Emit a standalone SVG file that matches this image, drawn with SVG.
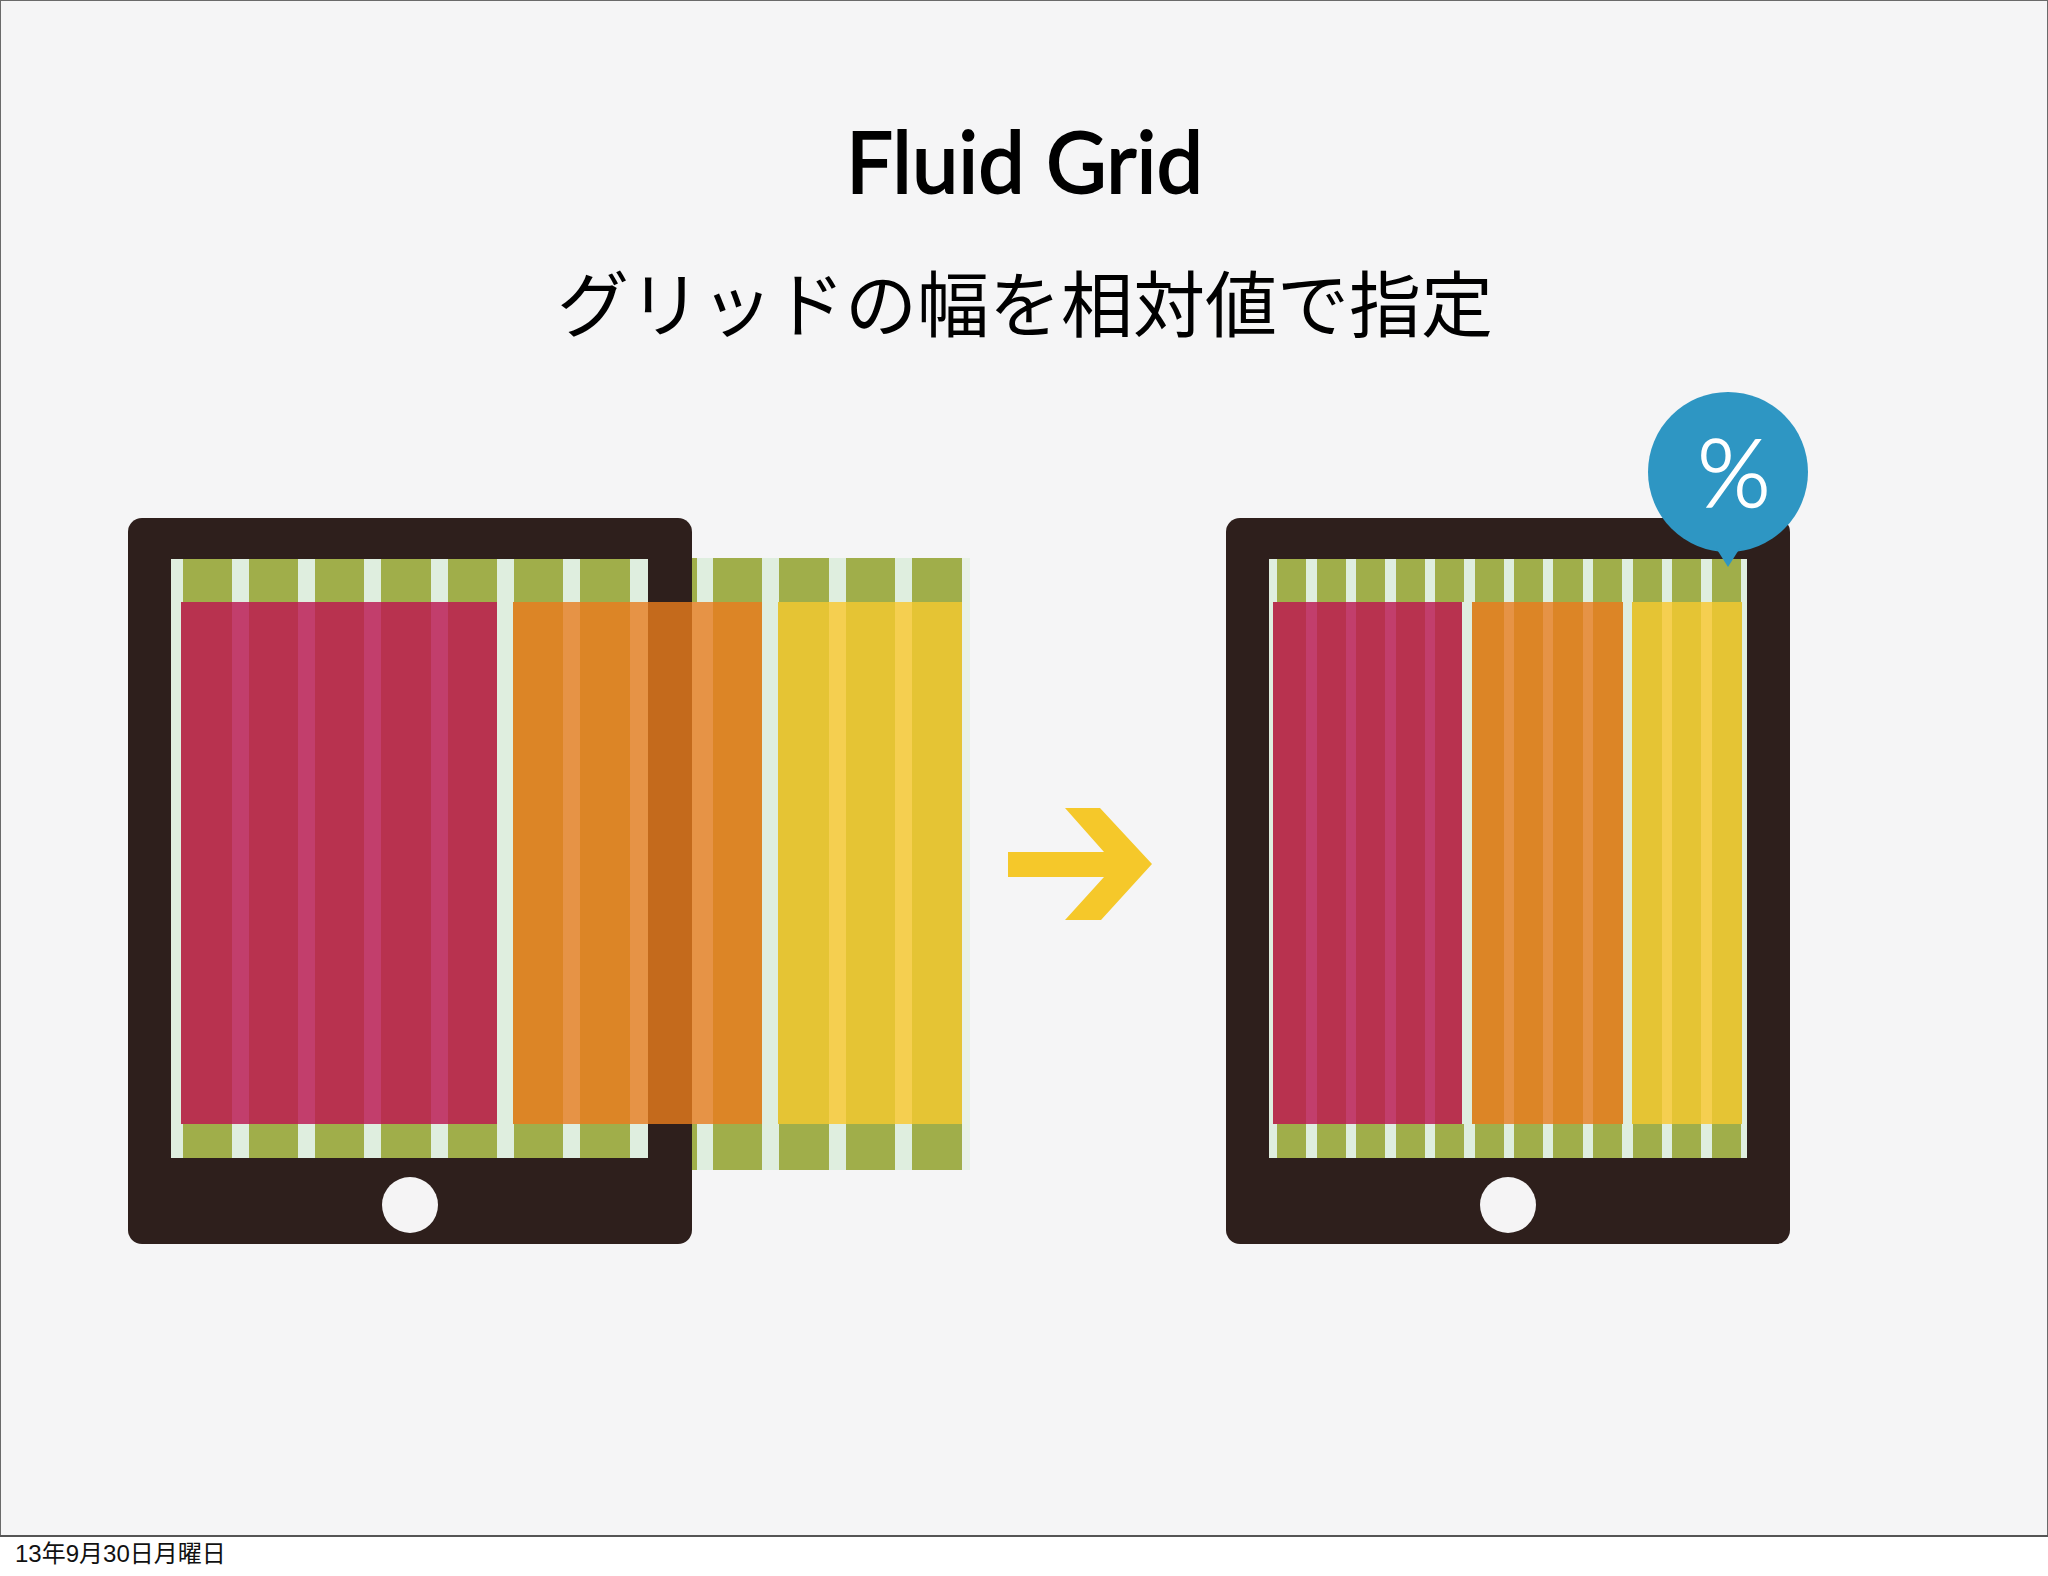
<svg xmlns="http://www.w3.org/2000/svg" width="2048" height="1576" viewBox="0 0 2048 1576">
<style>
.body{fill:#2e1f1c}
.pale{fill:#dfeedf}
.g{fill:#a0ae4a}
.r{fill:#b8324f}
.rg{fill:#c23e6c}
.o{fill:#dc8526}
.og{fill:#e69346}
.od{fill:#c46a1c}
.y{fill:#e5c434}
.yg{fill:#f5cf50}
.btn{fill:#f5f4f5}
.lat{font-family:"Noto Sans CJK JP","Noto Sans",sans-serif}
</style>
<rect width="2048" height="1576" fill="#ffffff"/>
<rect x="0.5" y="0.5" width="2047" height="1536" fill="#f5f5f6" stroke="#6a6a6a" stroke-width="1"/>
<rect x="0" y="1535" width="2048" height="2" fill="#555555"/>
<text id="title" x="846" y="193" font-family="Lato,'Liberation Sans',sans-serif" font-size="85" font-weight="400" fill="#000" stroke="#000" stroke-width="1.8" textLength="357" lengthAdjust="spacingAndGlyphs">Fluid Grid</text>
<text id="subtitle" class="lat" x="1025" y="331" text-anchor="middle" font-size="72" font-weight="400" fill="#000">グリッドの幅を相対値で指定</text>
<g id="tablet-left">
<rect class="body" x="128" y="518" width="564" height="726" rx="14"/>
<rect class="pale" x="171" y="559" width="477" height="599"/>
<rect class="pale" x="692" y="558" width="270" height="612"/>
<rect x="962" y="558" width="8" height="612" fill="#e8f1e6"/>
<g class="g">
<rect x="183" y="559" width="49" height="43"/><rect x="249" y="559" width="49" height="43"/><rect x="315" y="559" width="49" height="43"/><rect x="381" y="559" width="50" height="43"/><rect x="448" y="559" width="49" height="43"/><rect x="514" y="559" width="49" height="43"/><rect x="580" y="559" width="50" height="43"/>
<rect x="692" y="558" width="5" height="44"/><rect x="713" y="558" width="49" height="44"/><rect x="779" y="558" width="50" height="44"/><rect x="846" y="558" width="49" height="44"/><rect x="912" y="558" width="50" height="44"/>
<rect x="183" y="1124" width="49" height="34"/><rect x="249" y="1124" width="49" height="34"/><rect x="315" y="1124" width="49" height="34"/><rect x="381" y="1124" width="50" height="34"/><rect x="448" y="1124" width="49" height="34"/><rect x="514" y="1124" width="49" height="34"/><rect x="580" y="1124" width="50" height="34"/>
<rect x="692" y="1124" width="5" height="46"/><rect x="713" y="1124" width="49" height="46"/><rect x="779" y="1124" width="50" height="46"/><rect x="846" y="1124" width="49" height="46"/><rect x="912" y="1124" width="50" height="46"/>
</g>
<rect class="r" x="181" y="602" width="316" height="522"/>
<g class="rg"><rect x="232" y="602" width="17" height="522"/><rect x="298" y="602" width="17" height="522"/><rect x="364" y="602" width="17" height="522"/><rect x="431" y="602" width="17" height="522"/></g>
<rect class="o" x="513" y="602" width="249" height="522"/>
<g class="og"><rect x="563" y="602" width="17" height="522"/><rect x="630" y="602" width="18" height="522"/><rect x="692" y="602" width="21" height="522"/></g>
<rect class="od" x="648" y="602" width="44" height="522"/>
<rect class="y" x="778" y="602" width="184" height="522"/>
<g class="yg"><rect x="829" y="602" width="17" height="522"/><rect x="895" y="602" width="17" height="522"/></g>
<circle class="btn" cx="410" cy="1205" r="28"/>
</g>
<polygon id="arrow" points="1008,852 1104,852 1065,808 1100,808 1152,864 1101,920 1065,920 1104,877 1008,877" fill="#f5c82a"/>
<g id="tablet-right">
<rect class="body" x="1226" y="518" width="564" height="726" rx="14"/>
<rect class="pale" x="1269" y="559" width="478" height="599"/>
<g class="g">
<rect x="1277" y="559" width="29" height="43"/><rect x="1317" y="559" width="29" height="43"/><rect x="1356" y="559" width="29" height="43"/><rect x="1396" y="559" width="29" height="43"/><rect x="1435" y="559" width="29" height="43"/><rect x="1475" y="559" width="29" height="43"/><rect x="1514" y="559" width="29" height="43"/><rect x="1553" y="559" width="30" height="43"/><rect x="1593" y="559" width="29" height="43"/><rect x="1633" y="559" width="29" height="43"/><rect x="1672" y="559" width="29" height="43"/><rect x="1712" y="559" width="29" height="43"/>
<rect x="1277" y="1124" width="29" height="34"/><rect x="1317" y="1124" width="29" height="34"/><rect x="1356" y="1124" width="29" height="34"/><rect x="1396" y="1124" width="29" height="34"/><rect x="1435" y="1124" width="29" height="34"/><rect x="1475" y="1124" width="29" height="34"/><rect x="1514" y="1124" width="29" height="34"/><rect x="1553" y="1124" width="30" height="34"/><rect x="1593" y="1124" width="29" height="34"/><rect x="1633" y="1124" width="29" height="34"/><rect x="1672" y="1124" width="29" height="34"/><rect x="1712" y="1124" width="29" height="34"/>
</g>
<rect class="r" x="1273" y="602" width="189" height="522"/>
<g class="rg"><rect x="1306" y="602" width="11" height="522"/><rect x="1346" y="602" width="10" height="522"/><rect x="1385" y="602" width="11" height="522"/><rect x="1425" y="602" width="10" height="522"/></g>
<rect class="o" x="1472" y="602" width="151" height="522"/>
<g class="og"><rect x="1504" y="602" width="10" height="522"/><rect x="1543" y="602" width="10" height="522"/><rect x="1583" y="602" width="10" height="522"/></g>
<rect class="y" x="1632" y="602" width="110" height="522"/>
<g class="yg"><rect x="1662" y="602" width="10" height="522"/><rect x="1701" y="602" width="11" height="522"/></g>
<circle class="btn" cx="1508" cy="1205" r="28"/>
</g>
<g id="badge">
<circle cx="1728" cy="472" r="80" fill="#2e96c3"/>
<polygon points="1716,548 1740,548 1728,567" fill="#2e96c3"/>
<text x="1734" y="507" text-anchor="middle" font-family="Lato,sans-serif" font-weight="300" font-size="94" fill="#fff" stroke="#fff" stroke-width="1.6">%</text>
</g>
<text id="date" x="15" y="1562" font-family="'Liberation Sans','Noto Sans CJK JP',sans-serif" font-size="24" fill="#111">13年9月30日月曜日</text>
</svg>
